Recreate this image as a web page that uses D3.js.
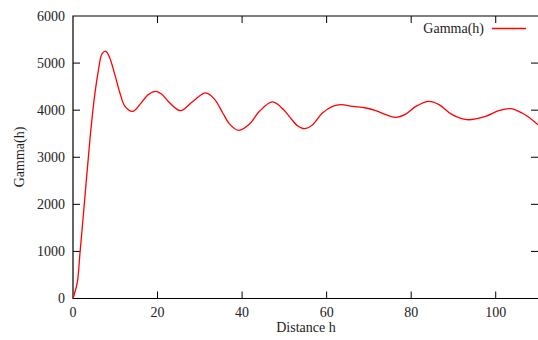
<!DOCTYPE html>
<html><head><meta charset="utf-8">
<script src="https://cdn.jsdelivr.net/npm/d3@7"></script>
<style>body{margin:0;background:#fff}svg{display:block}text{font-family:"Liberation Serif","Times New Roman",serif;fill:#222}</style>
</head><body>
<script>
const hValues = [0,1,1.65,2.83,4.0,5.0,5.97,6.9,7.8,8.7,9.9,11.1,12.3,14.1,15.8,17.8,19.6,21.0,22.5,25.4,28.4,31.4,33.5,35.5,37.0,39.2,41.7,44.1,47.2,50.0,51.4,53.1,54.7,56.7,59.0,61.4,63.4,66.1,69.3,71.6,74.0,76.3,78.7,81.1,84.2,86.6,89.7,93.2,97.6,100.7,103.5,106.2,108.0,110];
const gammaValues = [0,336,962,2166,3372,4223,4826,5202,5251,5110,4755,4366,4081,3975,4117,4330,4400,4340,4190,3989,4190,4366,4230,3930,3710,3570,3700,3975,4174,3995,3840,3670,3606,3691,3940,4081,4117,4081,4046,3989,3904,3847,3915,4081,4188,4117,3904,3798,3868,3989,4032,3940,3840,3690];
const xTicks = [0,20,40,60,80,100];
const yTicks = [0,1000,2000,3000,4000,5000,6000];
const seriesName = "Gamma(h)";
const xLabel = "Distance h", yLabel = "Gamma(h)";

const W=538,H=340, L=73,R=538,T=16,B=298.5;
const svg=d3.select("body").append("svg").attr("width",W).attr("height",H);
const x=d3.scaleLinear().domain([0,110]).range([L,R]);
const y=d3.scaleLinear().domain([0,6000]).range([B,T]);
const tl=7;
svg.append("path").attr("d",`M${R},${T}H${L}V${B}H${R}`).attr("fill","none").attr("stroke","#000").attr("stroke-width",1.2);
xTicks.forEach(v=>{
  const px=x(v);
  if(v>0){
  svg.append("line").attr("x1",px).attr("x2",px).attr("y1",B).attr("y2",B-tl).attr("stroke","#000");
  svg.append("line").attr("x1",px).attr("x2",px).attr("y1",T).attr("y2",T+tl).attr("stroke","#000");}
  svg.append("text").attr("x",px).attr("y",B+18).attr("text-anchor","middle").attr("font-size",14).text(v);
});
yTicks.forEach(v=>{
  const py=y(v);
  if(v>0&&v<6000){
  svg.append("line").attr("x1",L).attr("x2",L+tl).attr("y1",py).attr("y2",py).attr("stroke","#000");
  svg.append("line").attr("x1",R).attr("x2",R-tl).attr("y1",py).attr("y2",py).attr("stroke","#000");}
  svg.append("text").attr("x",65).attr("y",py+4.5).attr("text-anchor","end").attr("font-size",14).text(v);
});
svg.append("text").attr("x",306).attr("y",332).attr("text-anchor","middle").attr("font-size",14).text(xLabel);
svg.append("text").attr("transform",`translate(24,157) rotate(-90)`).attr("text-anchor","middle").attr("font-size",14).text(yLabel);
const data=hValues.map((h,i)=>({h,g:gammaValues[i]}));
svg.append("path").datum(data).attr("fill","none").attr("stroke","#ff0000").attr("stroke-width",1.3)
  .attr("d",d3.line().x(d=>x(d.h)).y(d=>y(d.g)).curve(d3.curveCatmullRom.alpha(0.5)));
svg.append("text").attr("x",484).attr("y",33).attr("text-anchor","end").attr("font-size",14).text(seriesName);
svg.append("line").attr("x1",492).attr("x2",526).attr("y1",28.5).attr("y2",28.5).attr("stroke","#ff0000").attr("stroke-width",1.3);
</script>
</body></html>
